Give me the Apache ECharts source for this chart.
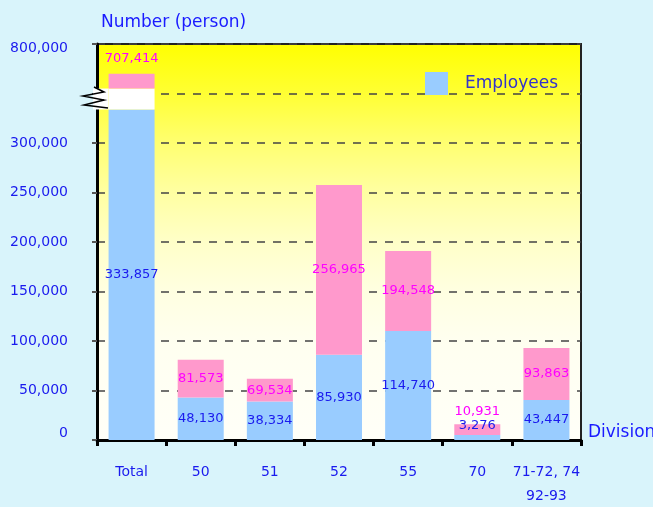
<!DOCTYPE html>
<html lang="en">
<head>
    <meta charset="UTF-8">
    <title>Number of persons by division</title>
    <script src="https://cdn.jsdelivr.net/npm/echarts@6/dist/echarts.min.js"></script>
    <style>
        html,body{
            margin:0;
            padding:0;
            background-color:#d9f4fb;
        }
        #chart{
            width:653px;
            height:507px;
        }
    </style>
</head>
<body>
<div id="chart"></div>
<script>
    // categories on the x axis
    var divisions = ['Total', '50', '51', '52', '55', '70', '71-72, 74\n92-93'];
    // bar heights (Total top is drawn above the axis break)
    var employees = [333857, 43000, 38800, 86000, 110000, 5000, 40500];
    var totals = [370000, 81000, 61800, 257600, 191000, 16000, 93000];
    // printed labels
    var employeeLabels = ['333,857', '48,130', '38,334', '85,930', '114,740', '3,276', '43,447'];
    var totalLabels = ['707,414', '81,573', '69,534', '256,965', '194,548', '10,931', '93,863'];
    // labels that sit above their bar instead of inside it
    var labelsOnTop = ['Total', '70'];
    // axis break on the Total bar
    var breakFrom = 333857;
    var breakTo = 355000;
    // y tick labels (350,000 hidden, top reads 800,000 because of the break)
    var yTickLabels = {0: '{low|0}', 50000: '50,000', 100000: '100,000', 150000: '150,000', 200000: '200,000',
        250000: '250,000', 300000: '300,000', 350000: '', 400000: '{high|800,000}'};

    var empData = [];
    var gapData = [];
    var restData = [];
    for (var i = 0; i < divisions.length; i++) {
        var gap = (i === 0) ? breakTo - breakFrom : 0;
        var onTop = labelsOnTop.indexOf(divisions[i]) >= 0;
        gapData.push(gap);
        empData.push({
            value: employees[i],
            label: {position: (onTop && i > 0) ? 'top' : 'inside', distance: 3}
        });
        restData.push({
            value: totals[i] - employees[i] - gap,
            label: {position: onTop ? 'top' : 'inside', distance: (i === 0) ? 9 : 6}
        });
    }

    var txtFont = 'DejaVu Sans';
    var myChart = echarts.init(document.getElementById('chart'));

    var option = {
        backgroundColor: '#d9f4fb',
        animation: false,
        title: {
            text: 'Number (person)',
            left: 96,
            top: 9,
            textStyle: {color: '#1a1aff', fontFamily: txtFont, fontSize: 17, fontWeight: 'normal'}
        },
        legend: {
            data: ['Employees'],
            left: 420,
            top: 67,
            itemWidth: 23,
            itemHeight: 23,
            selectedMode: false,
            icon: 'rect',
            textStyle: {color: '#3333cc', fontFamily: txtFont, fontSize: 17, padding: [0, 0, 0, 12]}
        },
        grid: {
            left: 97,
            right: 72,
            top: 44,
            bottom: 67,
            outerBoundsMode: 'none',
            show: true,
            borderColor: '#222',
            borderWidth: 2,
            backgroundColor: new echarts.graphic.LinearGradient(0, 0, 0, 1, [
                {offset: 0, color: '#ffff00'},
                {offset: 0.12, color: '#ffff30'},
                {offset: 0.25, color: '#ffff70'},
                {offset: 0.37, color: '#ffffa0'},
                {offset: 0.5, color: '#ffffc8'},
                {offset: 0.62, color: '#ffffe0'},
                {offset: 0.75, color: '#fffff0'},
                {offset: 1, color: '#fffff8'}
            ])
        },
        xAxis: {
            type: 'category',
            data: divisions,
            name: 'Division',
            nameLocation: 'end',
            nameGap: 7,
            nameTextStyle: {color: '#1a1aff', fontFamily: txtFont, fontSize: 17, verticalAlign: 'bottom', lineHeight: 14},
            axisLine: {lineStyle: {color: '#000', width: 3}},
            axisTick: {show: true, length: 6, lineStyle: {color: '#000', width: 3}},
            axisLabel: {color: '#1a1aee', fontFamily: txtFont, fontSize: 14, margin: 20, lineHeight: 24, interval: 0}
        },
        yAxis: {
            type: 'value',
            min: 0,
            max: 400000,
            interval: 50000,
            axisLine: {show: true, lineStyle: {color: '#000', width: 3}},
            axisTick: {show: true, length: 5, lineStyle: {color: '#555', width: 2}},
            axisLabel: {
                color: '#1a1aee', fontFamily: txtFont, fontSize: 14, margin: 29,
                formatter: function (v) { return yTickLabels[v]; },
                rich: {
                    low: {color: '#1a1aee', fontFamily: txtFont, fontSize: 14, padding: [0, 0, 14, 0]},
                    high: {color: '#1a1aee', fontFamily: txtFont, fontSize: 14, padding: [8, 0, 0, 0]}
                }
            },
            splitLine: {show: true, lineStyle: {color: '#444', width: 1.5, type: [8, 8]}}
        },
        series: [
            {
                name: 'Employees',
                type: 'bar',
                stack: 'p',
                barWidth: 46,
                data: empData,
                itemStyle: {color: '#99ccff'},
                label: {
                    show: true,
                    color: '#1a1aee',
                    fontFamily: txtFont,
                    fontSize: 13,
                    formatter: function (p) { return employeeLabels[p.dataIndex]; }
                }
            },
            {
                name: 'break',
                type: 'bar',
                stack: 'p',
                data: gapData,
                itemStyle: {color: '#ffffff'},
                silent: true
            },
            {
                name: 'Total',
                type: 'bar',
                stack: 'p',
                data: restData,
                itemStyle: {color: '#ff99cc'},
                label: {
                    show: true,
                    color: '#ff00ff',
                    fontFamily: txtFont,
                    fontSize: 13,
                    formatter: function (p) { return totalLabels[p.dataIndex]; }
                }
            }
        ]
    };

    myChart.setOption(option);

    // draw the break marker (white band over the axis and a zigzag)
    var lowPt = myChart.convertToPixel({gridIndex: 0}, [0, breakFrom]);
    var highPt = myChart.convertToPixel({gridIndex: 0}, [0, breakTo]);
    var nextX = myChart.convertToPixel({gridIndex: 0}, [1, 0])[0];
    var band = nextX - lowPt[0];
    var axisX = lowPt[0] - band / 2;
    var midY = (lowPt[1] + highPt[1]) / 2;
    myChart.setOption({
        graphic: [
            {
                type: 'rect',
                z: 100,
                shape: {x: axisX - 4, y: highPt[1], width: lowPt[0] - 23 - axisX + 4, height: lowPt[1] - highPt[1]},
                style: {fill: '#ffffff'}
            },
            {
                type: 'polyline',
                z: 101,
                shape: {points: [
                    [axisX - 3, midY - 12], [axisX + 7, midY - 7], [axisX - 14, midY - 3],
                    [axisX + 7, midY + 1], [axisX - 13, midY + 6], [axisX + 11, midY + 9]
                ]},
                style: {stroke: '#000', lineWidth: 1.5, fill: null}
            }
        ]
    });
</script>
</body>
</html>
